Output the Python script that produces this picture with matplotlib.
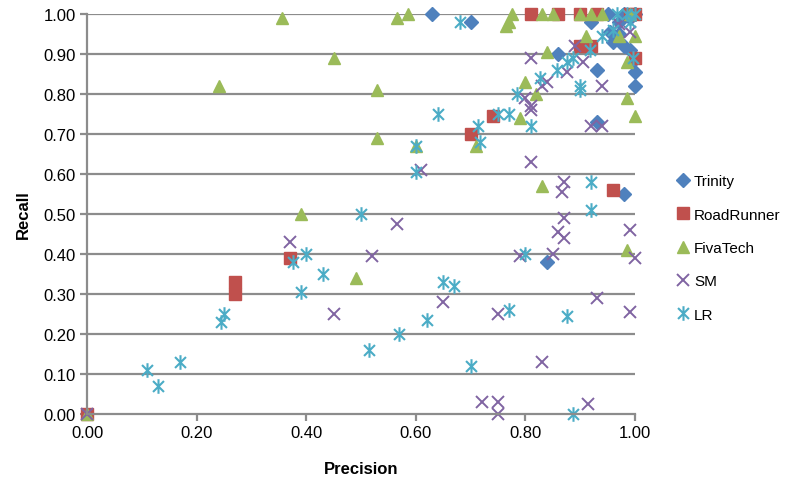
import matplotlib.pyplot as plt
from matplotlib.path import Path

# Precision / recall per tool
trinity_p = [0.63, 0.70, 0.86, 0.93, 1.00, 1.00, 0.995, 0.93, 0.98, 0.84, 0.95, 0.97, 0.97,
             0.98, 0.99, 0.96, 1.00, 0.99, 0.98, 0.92, 0.955]
trinity_r = [1.00, 0.98, 0.90, 0.86, 0.82, 0.855, 0.88, 0.73, 0.55, 0.38, 1.00, 0.98, 0.95,
             0.92, 0.91, 0.93, 1.00, 0.99, 1.00, 0.98, 0.955]

roadrunner_p = [0.00, 0.27, 0.27, 0.37, 0.70, 0.74, 0.81, 0.86, 0.90, 0.93, 1.00, 0.90,
                0.92, 1.00, 0.96, 0.99]
roadrunner_r = [0.00, 0.33, 0.30, 0.39, 0.70, 0.745, 1.00, 1.00, 1.00, 1.00, 1.00, 0.92,
                0.92, 0.89, 0.56, 1.00]

fivatech_p = [0.00, 0.24, 0.355, 0.45, 0.39, 0.565, 0.585, 0.53, 0.53, 0.60, 0.71, 0.765,
              0.775, 0.83, 0.85, 0.90, 0.92, 0.94, 0.84, 0.80, 0.82, 0.79, 0.83, 0.91, 0.97,
              1.00, 0.985, 0.985, 1.00, 0.49, 0.985, 0.77, 0.99]
fivatech_r = [0.00, 0.82, 0.99, 0.89, 0.50, 0.99, 1.00, 0.81, 0.69, 0.67, 0.67, 0.97,
              1.00, 1.00, 1.00, 1.00, 1.00, 1.00, 0.905, 0.83, 0.80, 0.74, 0.57, 0.945, 0.945,
              0.945, 0.88, 0.79, 0.745, 0.34, 0.41, 0.98, 1.00]

sm_p = [0.00, 0.37, 0.45, 0.52, 0.565, 0.61, 0.65, 0.72, 0.75, 0.75, 0.75, 0.79, 0.85, 0.83,
        0.915, 0.93, 0.99, 1.00, 0.99, 0.86, 0.87, 0.81, 0.87, 0.866, 0.87, 0.92, 0.94, 0.81,
        0.81, 0.80, 0.81, 0.84, 0.875, 0.89, 0.905, 0.94, 0.97, 0.99, 0.83]
sm_r = [0.00, 0.43, 0.25, 0.395, 0.475, 0.61, 0.28, 0.03, 0.03, 0.00, 0.25, 0.395, 0.40, 0.13,
        0.025, 0.29, 0.255, 0.39, 0.46, 0.455, 0.44, 0.63, 0.58, 0.555, 0.49, 0.72, 0.72, 0.89,
        0.77, 0.79, 0.76, 0.83, 0.855, 0.92, 0.88, 0.82, 0.975, 0.955, 0.82]

lr_p = [0.11, 0.13, 0.17, 0.245, 0.25, 0.375, 0.40, 0.39, 0.43, 0.50, 0.515, 0.57, 0.62, 0.65,
        0.67, 0.70, 0.77, 0.80, 0.875, 0.887, 0.92, 0.92, 0.60, 0.60, 0.64, 0.68, 0.713, 0.717,
        0.75, 0.77, 0.81, 0.785, 0.827, 0.857, 0.875, 0.887, 0.90, 0.90, 0.918, 0.94, 0.96,
        0.967, 0.985, 1.00, 0.997, 0.99]
lr_r = [0.11, 0.07, 0.13, 0.23, 0.25, 0.38, 0.40, 0.305, 0.35, 0.50, 0.16, 0.20, 0.235, 0.33,
        0.32, 0.12, 0.26, 0.40, 0.245, 0.00, 0.58, 0.51, 0.67, 0.605, 0.75, 0.98, 0.72, 0.68,
        0.75, 0.75, 0.72, 0.80, 0.84, 0.86, 0.88, 0.89, 0.81, 0.82, 0.91, 0.945, 0.96,
        1.00, 1.00, 1.00, 0.89, 0.98]

plt.rcParams['font.family'] = ['Liberation Sans', 'DejaVu Sans']

# Excel style asterisk: vertical bar plus an X
star = Path([(0, -1), (0, 1), (-0.75, -0.75), (0.75, 0.75), (-0.75, 0.75), (0.75, -0.75)],
            [Path.MOVETO, Path.LINETO] * 3)

fig = plt.figure(figsize=(7.88, 4.81), dpi=100)
ax = fig.add_axes([87 / 788, 1 - 415 / 481, 548 / 788, 400 / 481])

grid_color = '#8c8c8c'
for y in [i / 10 for i in range(1, 11)]:
    ax.axhline(y, color=grid_color, lw=1.6, zorder=0)

common = dict(linestyle='none', clip_on=False)
ax.plot(trinity_p, trinity_r, marker='D', ms=7, color='#4f81bd', label='Trinity', **common)
ax.plot(roadrunner_p, roadrunner_r, marker='s', ms=8.5, color='#c0504d', label='RoadRunner', **common)
ax.plot(fivatech_p, fivatech_r, marker='^', ms=9, color='#9bbb59', label='FivaTech', **common)
ax.plot(sm_p, sm_r, marker='x', ms=8, mew=1.4, color='#8064a2', label='SM', **common)
ax.plot(lr_p, lr_r, marker=star, ms=10.5, mew=1.5, color='#4bacc6', label='LR', **common)

ax.set_xlim(0, 1)
ax.set_ylim(0, 1)
ax.set_xticks([0, 0.2, 0.4, 0.6, 0.8, 1.0])
ax.set_yticks([i / 10 for i in range(11)])
ax.xaxis.set_major_formatter(plt.FormatStrFormatter('%.2f'))
ax.yaxis.set_major_formatter(plt.FormatStrFormatter('%.2f'))
ax.tick_params(axis='both', labelsize=12, color=grid_color, width=1.6, length=5,
               direction='out', pad=3)

for side in ['top', 'right']:
    ax.spines[side].set_visible(False)
for side in ['left', 'bottom']:
    ax.spines[side].set_color(grid_color)
    ax.spines[side].set_linewidth(1.6)

ax.set_xlabel('Precision', fontsize=12, fontweight='bold', labelpad=15)
ax.set_ylabel('Recall', fontsize=12, fontweight='bold', labelpad=9)

fig.legend(loc='center left', bbox_to_anchor=(671 / 788, 1 - 249 / 481), frameon=False,
           fontsize=11, handlelength=0.8, handletextpad=0.3, labelspacing=1.27,
           borderaxespad=0)

fig.savefig('out.png', dpi=100)
